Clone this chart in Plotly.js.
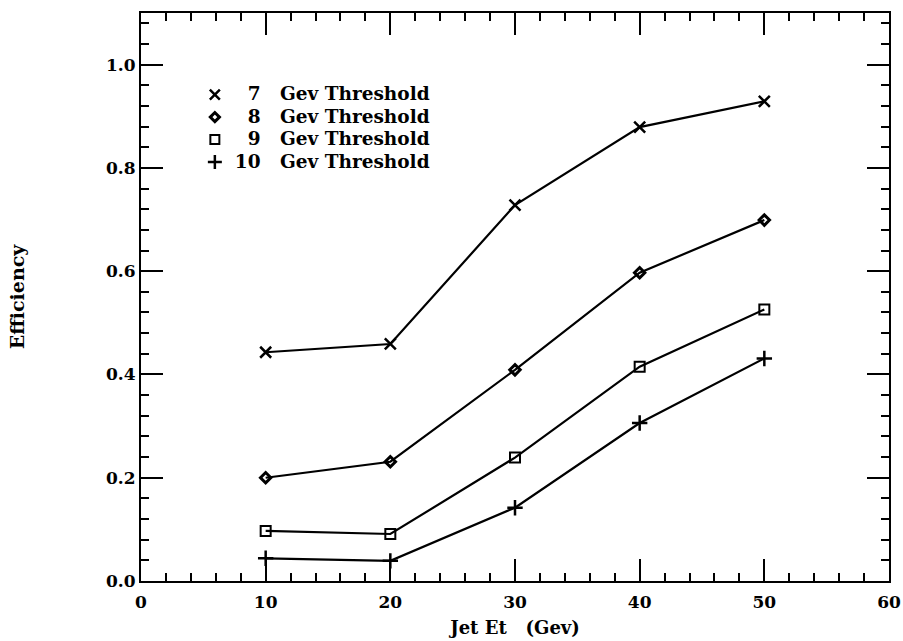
<!DOCTYPE html>
<html>
<head>
<meta charset="utf-8">
<script src="https://cdn.plot.ly/plotly-3.0.1.min.js"></script>
<style>html,body{margin:0;padding:0;background:#fff;}#chart{width:903px;height:641px;}</style>
</head>
<body>
<div id="chart"></div>
<script>
// Data
const jetEt = [10, 20, 30, 40, 50];
const eff7  = [0.443, 0.459, 0.728, 0.879, 0.929];
const eff8  = [0.200, 0.231, 0.409, 0.597, 0.699];
const eff9  = [0.097, 0.091, 0.239, 0.415, 0.526];
const eff10 = [0.044, 0.039, 0.142, 0.306, 0.431];
const xTicks = [0, 10, 20, 30, 40, 50, 60];
const yTicks = [0, 0.2, 0.4, 0.6, 0.8, 1.0];
const thresholds = ["7", "8", "9", "10"];

const FONT = "'DejaVu Serif', 'Liberation Serif', serif";
const styles = [
  {symbol: 'x-thin-open', size: 11, lw: 2.5},
  {symbol: 'diamond-open', size: 8, lw: 3},
  {symbol: 'square-open', size: 10, lw: 2},
  {symbol: 'cross-thin-open', size: 11, lw: 2.5}
];
const values = [eff7, eff8, eff9, eff10];

function legendName(t) {
  const pad = t.length === 1 ? '\u00A0\u00A0' : '';
  return '<span style="font-size:18.5px">' + pad + t + '\u00A0\u00A0\u00A0Gev Threshold</span>';
}

const traces = [];
values.forEach((v, i) => {
  traces.push({
    x: jetEt, y: v, mode: 'lines+markers', showlegend: false,
    line: {color: 'black', width: 2.2},
    marker: {symbol: styles[i].symbol, size: styles[i].size, color: 'black', line: {color: 'black', width: styles[i].lw}},
    cliponaxis: false, hoverinfo: 'skip'
  });
});
// legend-only entries (no data points)
values.forEach((v, i) => {
  traces.push({
    x: [null], y: [null], mode: 'markers', name: legendName(thresholds[i]),
    marker: {symbol: styles[i].symbol, size: styles[i].size - 1, color: 'black', line: {color: 'black', width: styles[i].lw}}
  });
});
// carrier for the minor-tick axes
traces.push({x: [null], y: [null], xaxis: 'x2', yaxis: 'y2', mode: 'markers', showlegend: false, hoverinfo: 'skip'});

const tickFont = {family: FONT, size: 17, color: 'black', weight: 'bold'};
const titleFont = {family: FONT, size: 19, color: 'black', weight: 'bold'};

const layout = {
  width: 903, height: 641,
  margin: {l: 141, r: 14, t: 13, b: 60},
  paper_bgcolor: 'white', plot_bgcolor: 'white',
  font: {family: FONT, color: 'black'},
  xaxis: {
    range: [0, 60], tickmode: 'array', tickvals: xTicks,
    showgrid: false, zeroline: false, showline: true, linecolor: 'black', linewidth: 2,
    mirror: 'ticks', ticks: 'inside', ticklen: 22, tickwidth: 2, tickcolor: 'black',
    tickfont: tickFont, ticklabelstandoff: 5,
    title: {text: 'Jet Et\u00A0\u00A0\u00A0(Gev)', font: {family: FONT, size: 18, color: 'black', weight: 'bold'}, standoff: 10}
  },
  yaxis: {
    range: [0, 1.1], tickmode: 'array', tickvals: yTicks, tickformat: '.1f',
    showgrid: false, zeroline: false, showline: true, linecolor: 'black', linewidth: 2,
    mirror: 'ticks', ticks: 'inside', ticklen: 22, tickwidth: 2, tickcolor: 'black',
    tickfont: tickFont,
    title: {text: 'Efficiency', font: titleFont, standoff: 76}
  },
  xaxis2: {
    overlaying: 'x', anchor: 'y', side: 'bottom', range: [0, 60], tick0: 0, dtick: 2,
    showgrid: false, zeroline: false, showline: false, showticklabels: false,
    mirror: 'ticks', ticks: 'inside', ticklen: 8, tickwidth: 2, tickcolor: 'black'
  },
  yaxis2: {
    overlaying: 'y', anchor: 'x', side: 'left', range: [0, 1.1], tick0: 0, dtick: 0.04,
    showgrid: false, zeroline: false, showline: false, showticklabels: false,
    mirror: 'ticks', ticks: 'inside', ticklen: 8, tickwidth: 2, tickcolor: 'black'
  },
  showlegend: true,
  legend: {
    x: 0.072, y: 0.885, xanchor: 'left', yanchor: 'top',
    bgcolor: 'rgba(0,0,0,0)', borderwidth: 0,
    font: {family: FONT, size: 15, color: 'black', weight: 'bold'},
    itemwidth: 30, tracegroupgap: 0
  }
};

Plotly.newPlot('chart', traces, layout, {displayModeBar: false, staticPlot: true});
</script>
</body>
</html>
